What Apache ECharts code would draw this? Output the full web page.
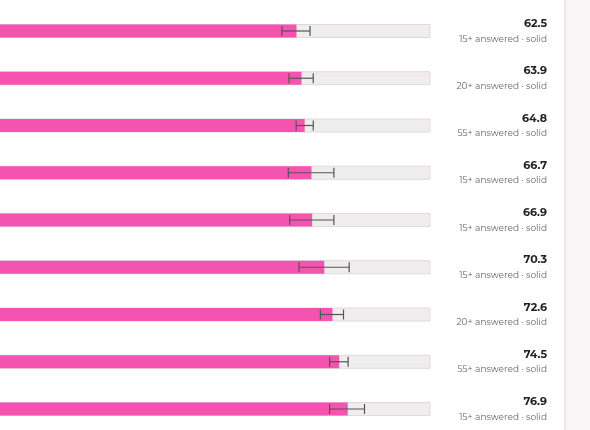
<!DOCTYPE html><html><head><meta charset="utf-8"><script src="https://cdn.jsdelivr.net/npm/echarts@6/dist/echarts.min.js"></script>
<style>html,body{margin:0;background:#fff}#c{width:590px;height:430px}</style></head><body><div id="c"></div><script>
const categories=['r1','r2','r3','r4','r5','r6','r7','r8','r9'];
const values=[62.5,63.9,64.8,66.7,66.9,70.3,72.6,74.5,76.9];
const errLow=[58.4,60.4,62.4,60.2,60.6,63.2,69.2,71.8,71.8];
const errHigh=[66.3,67.2,67.2,73.0,73.0,77.3,75.7,77.0,81.6];
const notes=['15+ answered · solid','20+ answered · solid','55+ answered · solid','15+ answered · solid','15+ answered · solid','15+ answered · solid','20+ answered · solid','55+ answered · solid','15+ answered · solid'];
const F='Montserrat, "Noto Sans", sans-serif';
const ch=echarts.init(document.getElementById('c'));
ch.setOption({animation:false,
graphic:[{type:'rect',shape:{x:565,y:-2,width:30,height:434},style:{fill:'#f7f5f6',stroke:'#f1dfe6',lineWidth:1.5},z:-1}],
grid:{left:0,width:430,top:0,height:430},
xAxis:{type:'value',min:-20.8,max:100,show:false},
yAxis:{type:'value',min:-0.656,max:8.444,inverse:true,show:false},
series:[
{type:'custom',data:values.map((v,i)=>[v,i]),renderItem:(p,api)=>{const v=api.value(0),i=api.value(1);
 const o=api.coord([-20.8,i]),e=api.coord([100,i]),b=api.coord([v,i]);
 const a=api.coord([errLow[i],i]),h=api.coord([errHigh[i],i]);
 const s={stroke:'#555',lineWidth:1.2};const y=o[1];
 return {type:'group',children:[
 {type:'rect',shape:{x:o[0]-2,y:y-6.5,width:e[0]-o[0]+2,height:13},style:{fill:'#efedee',stroke:'#e2d9dc',lineWidth:1}},
 {type:'rect',shape:{x:o[0]-2,y:y-6.5,width:b[0]-o[0]+2,height:13},style:{fill:'#f553b0'}},
 {type:'line',shape:{x1:a[0],y1:y,x2:h[0],y2:y},style:s},
 {type:'line',shape:{x1:a[0],y1:y-5,x2:a[0],y2:y+5},style:s},
 {type:'line',shape:{x1:h[0],y1:y-5,x2:h[0],y2:y+5},style:s},
 {type:'text',x:e[0]+117,y:y-7,style:{text:v.toFixed(1),align:'right',verticalAlign:'middle',font:'bold 11px '+F,fill:'#222'}},
 {type:'text',x:e[0]+117,y:y+8,style:{text:notes[i],align:'right',verticalAlign:'middle',font:'9px '+F,fill:'#666'}}]};}}
]});
</script></body></html>
